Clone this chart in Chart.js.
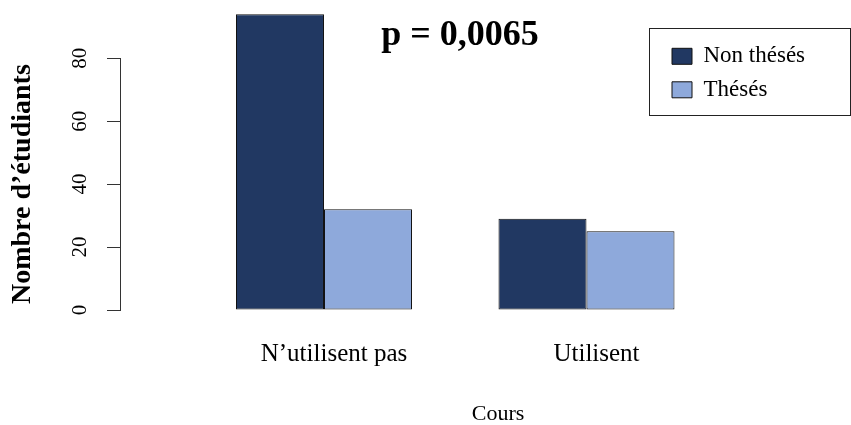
<!DOCTYPE html>
<html>
<head>
<meta charset="utf-8">
<script src="https://cdn.jsdelivr.net/npm/chart.js@4/dist/chart.umd.min.js"></script>
<style>
  html, body { margin: 0; padding: 0; background: #ffffff; overflow: hidden; width: 851px; height: 425px; }
  canvas { display: block; }
</style>
</head>
<body>
<!-- the plot region runs a little past the right edge of the picture, as in the original -->
<canvas id="c" width="876" height="425"></canvas>
<script>
// ---- data ----
const categories = ['N’utilisent pas', 'Utilisent'];
const seriesNames = ['Non thésés', 'Thésés'];
const nonTheses = [94, 29];
const theses = [32, 25];
const yTicks = [0, 20, 40, 60, 80];
const pText = 'p = 0,0065';
const xTitle = 'Cours';
const yTitle = 'Nombre d’étudiants';

const toPoints = vals => vals.map((v, i) => ({ x: i + 1, y: v }));

Chart.defaults.font.family = "'Liberation Serif', 'Times New Roman', serif";
Chart.defaults.color = '#000';

// legend placed at top right, with an R-style frame around it
const FRAME = { left: 649.5, top: 28.5, right: 850.5, height: 87 };
const legendFrame = {
  id: 'legendFrame',
  afterLayout(chart) {
    const lg = chart.legend;
    if (!lg) return;
    lg.left = FRAME.left + 12; lg.top = FRAME.top + 5.8;
    lg.right = FRAME.right; lg.bottom = 140;
    lg.width = lg.right - lg.left; lg.height = lg.bottom - lg.top;
  },
  afterDraw(chart) {
    const ctx = chart.ctx;
    ctx.save();
    ctx.strokeStyle = '#222';
    ctx.lineWidth = 1;
    ctx.strokeRect(FRAME.left, FRAME.top, FRAME.right - FRAME.left, FRAME.height);
    ctx.restore();
  }
};

new Chart(document.getElementById('c'), {
  type: 'bar',
  data: {
    datasets: [
      {
        label: seriesNames[0],
        data: toPoints(nonTheses),
        backgroundColor: '#213862',
        borderColor: '#111111',
        borderWidth: 1,
        borderSkipped: false,
        clip: false,
        categoryPercentage: 0.6705,
        barPercentage: 1
      },
      {
        label: seriesNames[1],
        data: toPoints(theses),
        backgroundColor: '#8EA9DB',
        borderColor: '#111111',
        borderWidth: 1,
        borderSkipped: false,
        clip: false,
        categoryPercentage: 0.6705,
        barPercentage: 1
      }
    ]
  },
  options: {
    responsive: false,
    animation: false,
    devicePixelRatio: 1,
    layout: { padding: { left: 44, right: 0, top: 0, bottom: 0 } },
    plugins: {
      tooltip: { enabled: false },
      title: {
        display: true,
        text: pText,
        fullSize: true,
        color: '#000',
        font: { size: 36, weight: 'bold', lineHeight: 1.2 },
        padding: { top: 14, bottom: 1 }
      },
      legend: {
        display: true,
        position: 'chartArea',
        align: 'start',
        labels: {
          color: '#000',
          font: { size: 23 },
          boxWidth: 20,
          boxHeight: 16,
          padding: 10.5
        }
      }
    },
    scales: {
      x: {
        type: 'linear',
        min: 0.2229,
        max: 3.1029,
        offset: false,
        bounds: 'data',
        afterBuildTicks: s => { s.ticks = categories.map((c, i) => ({ value: i + 1 })); },
        ticks: {
          callback: v => categories[v - 1],
          autoSkip: false,
          minRotation: 0,
          maxRotation: 0,
          labelOffset: 10,
          padding: 29.5,
          font: { size: 25 },
          color: '#000'
        },
        grid: { display: false, drawTicks: false },
        border: { display: false },
        title: {
          display: true,
          text: xTitle,
          color: '#000',
          font: { size: 22, lineHeight: 1 },
          padding: { top: 4, bottom: 0 }
        }
      },
      y: {
        min: 0,
        max: 80,
        afterBuildTicks: s => { s.ticks = yTicks.map(v => ({ value: v })); },
        ticks: {
          minRotation: 90,
          maxRotation: 90,
          crossAlign: 'center',
          padding: 16,
          font: { size: 21 },
          color: '#000'
        },
        grid: { drawOnChartArea: false, drawTicks: true, tickLength: 13, color: '#333' },
        border: { display: true, color: '#333', width: 1 },
        title: {
          display: true,
          text: yTitle,
          color: '#000',
          font: { size: 28, weight: 'bold', lineHeight: 1 },
          padding: { top: -35, bottom: 12.8 }
        }
      }
    }
  },
  plugins: [legendFrame]
});
</script>
</body>
</html>
